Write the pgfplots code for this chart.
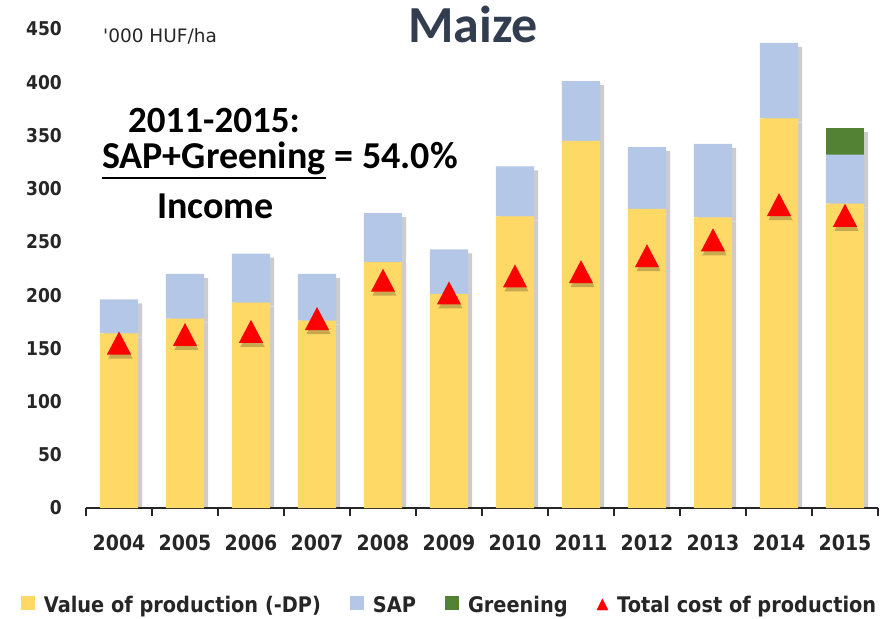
\documentclass[border=0pt]{standalone}
\usepackage{fontspec}
\setmainfont{Carlito}
\newfontfamily\tah[FakeStretch=0.9]{DejaVu Sans}
\newfontfamily\dv{DejaVu Sans}
\usepackage{pgfplots}
\usepackage{pgfplotstable}
\pgfplotsset{compat=1.18}
\definecolor{cval}{HTML}{FFD966}
\definecolor{csap}{HTML}{B4C7E7}
\definecolor{cgreen}{HTML}{548235}
\definecolor{ctitle}{HTML}{323E4F}
\definecolor{ctick}{HTML}{262626}
\pgfdeclareplotmark{xtri}{%
  \pgfpathmoveto{\pgfpoint{0pt}{\pgfplotmarksize}}%
  \pgfpathlineto{\pgfpoint{1.05\pgfplotmarksize}{-\pgfplotmarksize}}%
  \pgfpathlineto{\pgfpoint{-1.05\pgfplotmarksize}{-\pgfplotmarksize}}%
  \pgfpathclose
  \pgfusepathqfill}

\pgfplotstableread{
x val sap green cost
0 164 32 0 155
1 178 42 0 163
2 193 46 0 166
3 176 44 0 178
4 231 46 0 214
5 201 42 0 202
6 274 47 0 218
7 345 56 0 222
8 281 58 0 237
9 273 69 0 252
10 366 71 0 285
11 286 46 25 275
}\data

\pgfplotsset{base/.style={scale only axis, width=792pt, height=479pt,
  xmin=-0.5, xmax=11.5, ymin=0, ymax=450}}

\begin{document}
\begin{tikzpicture}
% bar shadows
\begin{axis}[base, hide axis, ybar stacked, bar width=0.58]
\addplot[fill=black!20, draw=none, xshift=4pt, yshift=-4pt] table[x=x,y=val]{\data};
\addplot[fill=black!20, draw=none, xshift=4pt, yshift=-4pt] table[x=x,y=sap]{\data};
\addplot[fill=black!20, draw=none, xshift=4pt, yshift=-4pt] table[x=x,y=green]{\data};
\end{axis}
% main axis
\begin{axis}[base, name=ax, ybar stacked, bar width=0.58,
  axis lines*=left,
  y axis line style={draw=none},
  x axis line style={line width=1.6pt, color=ctick},
  xtick={0,...,11},
  xticklabels={2004,2005,2006,2007,2008,2009,2010,2011,2012,2013,2014,2015},
  ytick={0,50,...,450},
  major tick length=0pt,
  ytick style={draw=none},
  extra x ticks={-0.5,0.5,1.5,2.5,3.5,4.5,5.5,6.5,7.5,8.5,9.5,10.5,11.5},
  extra x tick labels={},
  extra x tick style={major tick length=8pt, tick align=outside,
     tick style={line width=1.6pt, color=ctick}},
  /pgf/number format/assume math mode=true,
  yticklabel style={font=\tah\fontsize{19}{22}\selectfont\bfseries, anchor=east,
     inner sep=0pt, xshift=-24pt, text=ctick},
  xticklabel style={font=\tah\fontsize{21}{25}\selectfont\bfseries, anchor=north,
     inner sep=0pt, yshift=-27pt, text=ctick},
  legend style={at={(0.459,-0.2025)}, anchor=center, draw=none, fill=none,
     font=\tah\fontsize{21.5}{26}\selectfont\bfseries, text=ctick,
     /tikz/every odd column/.append style={column sep=7pt},
     /tikz/every even column/.append style={column sep=27pt}},
  legend columns=4,
  legend cell align=left,
]
\addplot[fill=cval, draw=none,
  legend image code/.code={\fill[cval] (0pt,-5pt) rectangle (14pt,9pt);}]
  table[x=x,y=val]{\data};
\addlegendentry{Value of production (-DP)}
\addplot[fill=csap, draw=none,
  legend image code/.code={\fill[csap] (0pt,-5pt) rectangle (14pt,9pt);}]
  table[x=x,y=sap]{\data};
\addlegendentry{SAP}
\addplot[fill=cgreen, draw=none,
  legend image code/.code={\fill[cgreen] (0pt,-5pt) rectangle (14pt,9pt);}]
  table[x=x,y=green]{\data};
\addlegendentry{Greening}
\addlegendimage{legend image code/.code={\fill[red] (2pt,-5pt) -- (13pt,-5pt) -- (7.5pt,6pt) -- cycle;}}
\addlegendentry{Total cost of production}
\end{axis}
% triangles
\begin{axis}[base, hide axis]
\addplot[only marks, mark=xtri, mark size=11.5pt,
  mark options={fill=black, draw=none, fill opacity=0.22}, xshift=1.5pt, yshift=-4pt]
  table[x=x,y=cost]{\data};
\addplot[only marks, mark=xtri, mark size=11.5pt, mark options={fill=red, draw=none}]
  table[x=x,y=cost]{\data};
\end{axis}
% texts
\node[anchor=base, inner sep=0pt, text=ctitle, font=\fontsize{52}{58}\selectfont\bfseries]
  at ([shift={(387pt,465pt)}]ax.south west) {Maize};
\node[anchor=base west, inner sep=0pt, text=ctick, font=\dv\fontsize{18.5}{22}\selectfont]
  at ([shift={(17pt,465pt)}]ax.south west) {'000 HUF/ha};
\node[anchor=base west, inner sep=0pt, font=\fontsize{37}{43}\selectfont\bfseries]
  at ([shift={(42pt,375pt)}]ax.south west) {2011-2015:};
\node[anchor=base west, inner sep=0pt, font=\fontsize{38}{44}\selectfont\bfseries] (sg)
  at ([shift={(16pt,339pt)}]ax.south west) {SAP+Greening};
\node[anchor=base west, inner sep=0pt, font=\fontsize{38}{44}\selectfont\bfseries]
  at (sg.base east) {\ =\ 54.0\%};
\draw[line width=2pt] ([yshift=-9pt]sg.base west) -- ([yshift=-9pt]sg.base east);
\node[anchor=base west, inner sep=0pt, font=\fontsize{38}{44}\selectfont\bfseries]
  at ([shift={(71pt,289pt)}]ax.south west) {Income};
% page frame
\path ([shift={(-86pt,-110pt)}]ax.south west) rectangle ([shift={(12pt,29pt)}]ax.north east);
\end{tikzpicture}
\end{document}
